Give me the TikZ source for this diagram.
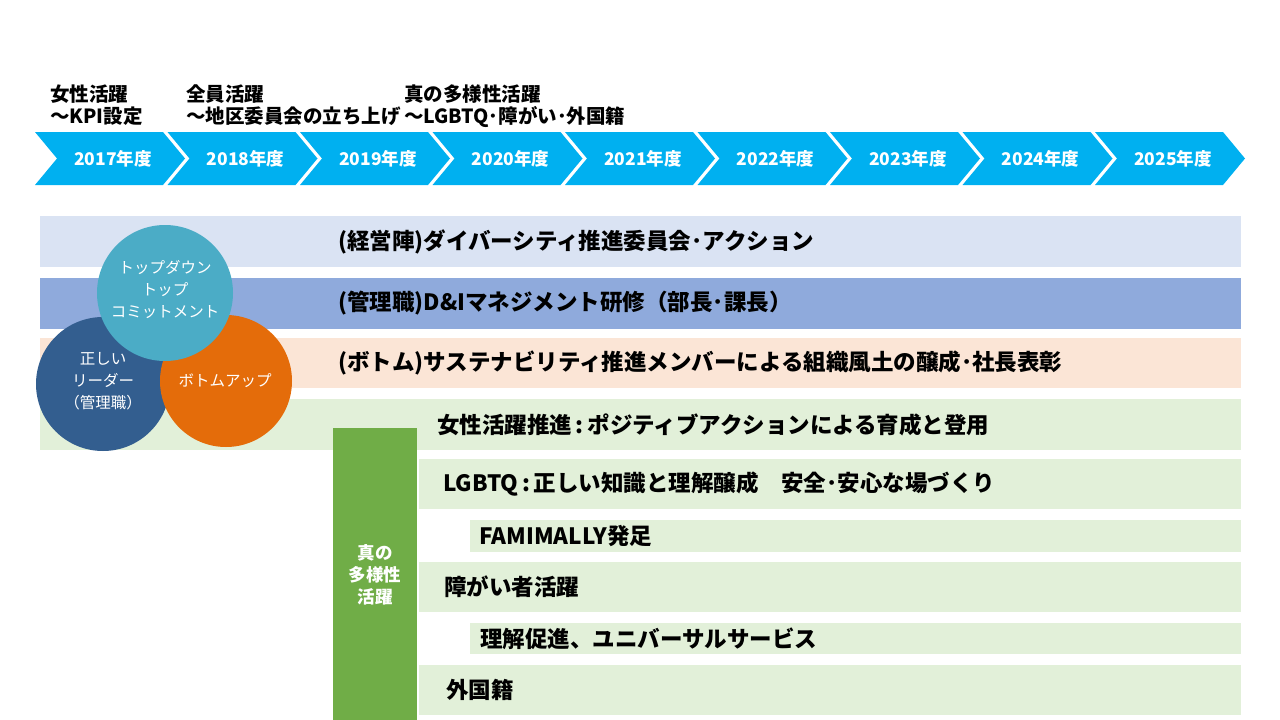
\documentclass[tikz,border=0pt]{standalone}
\usepackage{fontspec}
\setmainfont{Noto Sans CJK JP}
\usepackage{tikz}

\definecolor{chev}{HTML}{00B0F0}
\definecolor{bandA}{HTML}{DAE3F3}
\definecolor{bandB}{HTML}{8FAADC}
\definecolor{bandC}{HTML}{FBE5D6}
\definecolor{bandG}{HTML}{E2F0D9}
\definecolor{colG}{HTML}{70AD47}
\definecolor{circT}{HTML}{4BACC6}
\definecolor{circB}{HTML}{335E8F}
\definecolor{circO}{HTML}{E46C0A}

\begin{document}
\begin{tikzpicture}[x=1pt,y=-1pt,
  yeartext/.style={text=white, font=\bfseries\fontsize{17.5}{18}\selectfont, inner sep=0pt},
  headtext/.style={anchor=north west, align=left, inner sep=0pt, font=\bfseries\fontsize{19.5}{22}\selectfont},
  bandtext/.style={anchor=west, inner sep=0pt, font=\bfseries\fontsize{22.5}{25}\selectfont},
  circtext/.style={text=white, align=center, inner sep=0pt, font=\fontsize{15.5}{22}\selectfont}]
\useasboundingbox (0,0) rectangle (1280,720);

% headings
\node (h1) [headtext] at (50,85) {女性活躍\\～KPI設定};
\node (h2) [headtext] at (186,85) {全員活躍\\～地区委員会の立ち上げ};
\node (h3) [headtext] at (404,85) {真の多様性活躍\\～LGBTQ･障がい･外国籍};

% years
\foreach \yr [count=\k from 0] in {2017,...,2025} {
  \pgfmathsetmacro\xa{35+132.5*\k}
  \fill[chev] (\xa,132) -- ++(128,0) -- ++(22,26.5) -- ++(-22,26.5) -- ++(-128,0) -- ++(22,-26.5) -- cycle;
  \node (y\yr) [yeartext] at (\xa+78,158.5) {\yr 年度};
}

% bands
\fill[bandA] (40,216) rectangle (1241,267);
\fill[bandB] (40,278) rectangle (1241,329);
\fill[bandC] (40,338) rectangle (1241,388);
\fill[bandG] (40,399) rectangle (1241,450);
\fill[bandG] (419,459) rectangle (1241,509);
\fill[bandG] (470,520) rectangle (1241,552);
\fill[bandG] (419,562) rectangle (1241,612);
\fill[bandG] (470,623) rectangle (1241,654);
\fill[bandG] (419,665) rectangle (1241,715);
\fill[colG] (333,428) rectangle (417,720);

\node (keiei) [bandtext] at (338,241.5) {(経営陣)ダイバーシティ推進委員会･アクション};
\node (kanri) [bandtext] at (338,303.5) {(管理職)D\&Iマネジメント研修（部長･課長）};
\node (bottom) [bandtext] at (338,363) {(ボトム)サステナビリティ推進メンバーによる組織風土の醸成･社長表彰};
\node (josei) [bandtext] at (437,424.5) {女性活躍推進\,:\,ポジティブアクションによる育成と登用};
\node (lgbtq) [bandtext] at (443,484) {LGBTQ\,:\,正しい知識と理解醸成　安全･安心な場づくり};
\node (fami) [bandtext] at (479,536) {FAMIMALLY発足};
\node (shogai) [bandtext] at (444,587) {障がい者活躍};
\node (rikai) [bandtext] at (480,638.5) {理解促進、ユニバーサルサービス};
\node (gaikoku) [bandtext] at (446,690) {外国籍};
\node (shin) [circtext, font=\bfseries\fontsize{17.5}{22}\selectfont] at (375,575) {真の\\多様性\\活躍};

% circles
\fill[circB] (103,384) circle (67);
\fill[circO] (226,381) circle (66);
\fill[circT] (165,293) circle (68);
\node (leader) [circtext] at (103,381) {正しい\\リーダー\\（管理職）};
\node (up) [circtext] at (225,381) {ボトムアップ};
\node (down) [circtext] at (165,290) {トップダウン\\トップ\\コミットメント};
\end{tikzpicture}
\end{document}
